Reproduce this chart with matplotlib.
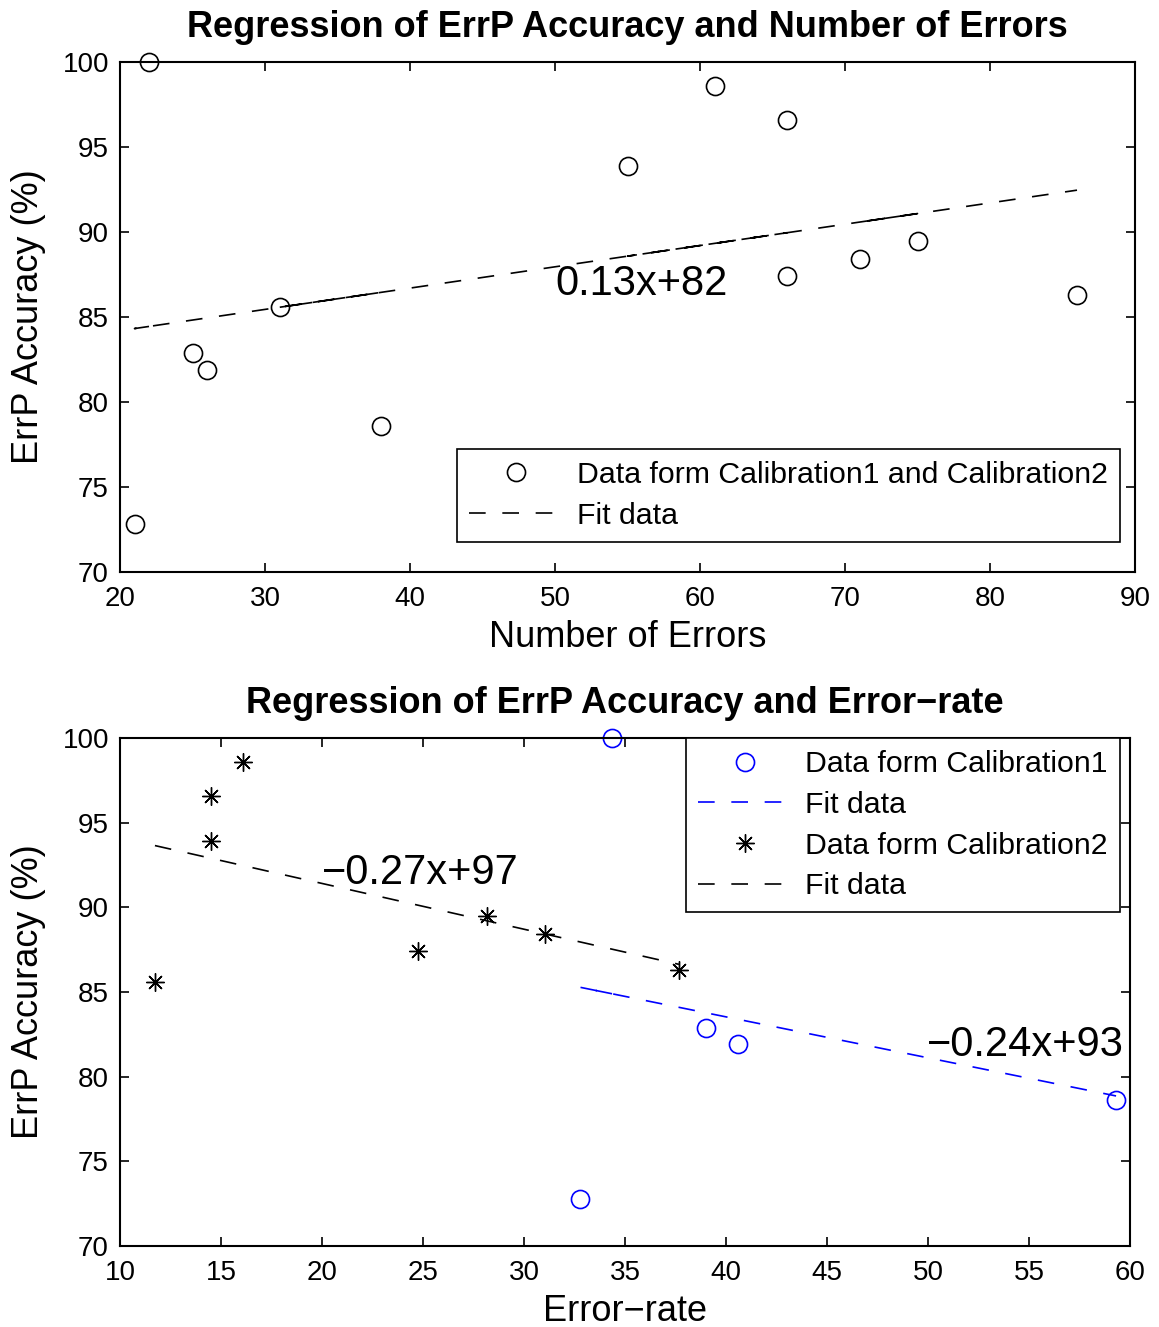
import numpy as np
import matplotlib.pyplot as plt

plt.rcParams['font.family'] = ['Liberation Sans', 'DejaVu Sans']

# ErrP accuracy (%) per subject, Calibration1 then Calibration2
acc_cal1 = [100.0, 72.8, 82.9, 81.9, 78.6]
acc_cal2 = [85.6, 96.6, 93.9, 98.6, 87.4, 89.5, 88.4, 86.3]

# number of errors per subject
n_err_cal1 = [22, 21, 25, 26, 38]
n_err_cal2 = [31, 66, 55, 61, 66, 75, 71, 86]

# error-rate per subject
rate_cal1 = [34.36, 32.77, 39.0, 40.59, 59.31]
rate_cal2 = [11.73, 14.5, 14.5, 16.09, 24.75, 28.17, 31.04, 37.67]

eq_top = '0.13x+82'
eq_cal1 = '\u22120.24x+93'
eq_cal2 = '\u22120.27x+97'

dash = (0, (10, 10))
tick_fs = 20
lab_fs = 26
title_fs = 26
leg_fs = 21.8
eq_fs = 30


def style_axes(ax):
    ax.tick_params(direction='in', length=6.5, width=1.2, labelsize=tick_fs,
                   top=True, right=True)
    ax.tick_params(axis='x', pad=10)
    ax.tick_params(axis='y', pad=8)
    for s in ax.spines.values():
        s.set_linewidth(1.5)


def make_legend(ax, loc, anchor):
    leg = ax.legend(loc=loc, bbox_to_anchor=anchor, fontsize=leg_fs,
                    handlelength=3.1, handletextpad=0.45, labelspacing=0.42,
                    fancybox=False, edgecolor='k', framealpha=1,
                    borderpad=0.4, borderaxespad=0)
    leg.get_frame().set_linewidth(1.2)
    return leg


fig = plt.figure(figsize=(11.59, 13.27), dpi=100)

# ---- top panel: accuracy vs number of errors
ax1 = fig.add_axes([120 / 1159, (1327 - 572) / 1327, 1015 / 1159, 510 / 1327])
x_all = np.array(n_err_cal1 + n_err_cal2, dtype=float)
y_all = np.array(acc_cal1 + acc_cal2)
p = np.polyfit(x_all, y_all, 1)
ax1.plot(x_all, y_all, 'o', mfc='none', mec='k', ms=13, mew=1.2, clip_on=False,
         label='Data form Calibration1 and Calibration2')
ax1.plot(x_all, np.polyval(p, x_all), color='k', lw=1.2, ls=dash, label='Fit data')
ax1.text(50, 86.94, eq_top, fontsize=eq_fs, ha='left', va='center')
ax1.set_xlim(20, 90)
ax1.set_ylim(70, 100)
ax1.set_xticks(range(20, 91, 10))
ax1.set_yticks(range(70, 101, 5))
ax1.set_xlabel('Number of Errors', fontsize=lab_fs, labelpad=6)
ax1.set_ylabel('ErrP Accuracy (%)', fontsize=lab_fs, labelpad=12)
ax1.set_title('Regression of ErrP Accuracy and Number of Errors',
              fontsize=title_fs, fontweight='bold', pad=18)
style_axes(ax1)
make_legend(ax1, 'lower right', (0.985, 0.059))

# ---- bottom panel: accuracy vs error-rate
ax2 = fig.add_axes([120 / 1159, (1327 - 1246) / 1327, 1010 / 1159, 508 / 1327])
x1 = np.array(rate_cal1)
y1 = np.array(acc_cal1)
x2 = np.array(rate_cal2)
y2 = np.array(acc_cal2)
p1 = np.polyfit(x1, y1, 1)
p2 = np.polyfit(x2, y2, 1)
ax2.plot(x1, y1, 'o', mfc='none', mec='b', ms=13, mew=1.2, clip_on=False,
         label='Data form Calibration1')
ax2.plot(x1, np.polyval(p1, x1), color='b', lw=1.2, ls=dash, label='Fit data')
ax2.plot(x2, y2, ls='none', color='k', ms=13, mew=1.0, marker=(8, 2, 0),
         clip_on=False, label='Data form Calibration2')
ax2.plot(x2, np.polyval(p2, x2), color='k', lw=1.2, ls=dash, label='Fit data')
ax2.text(20, 92.03, eq_cal2, fontsize=eq_fs, ha='left', va='center')
ax2.text(49.95, 81.87, eq_cal1, fontsize=eq_fs, ha='left', va='center')
ax2.set_xlim(10, 60)
ax2.set_ylim(70, 100)
ax2.set_xticks(range(10, 61, 5))
ax2.set_yticks(range(70, 101, 5))
ax2.set_xlabel('Error\u2212rate', fontsize=lab_fs, labelpad=6)
ax2.set_ylabel('ErrP Accuracy (%)', fontsize=lab_fs, labelpad=12)
ax2.set_title('Regression of ErrP Accuracy and Error\u2212rate',
              fontsize=title_fs, fontweight='bold', pad=18)
style_axes(ax2)
make_legend(ax2, 'upper right', (0.990, 1.0))

fig.savefig('out.png', dpi=100)
